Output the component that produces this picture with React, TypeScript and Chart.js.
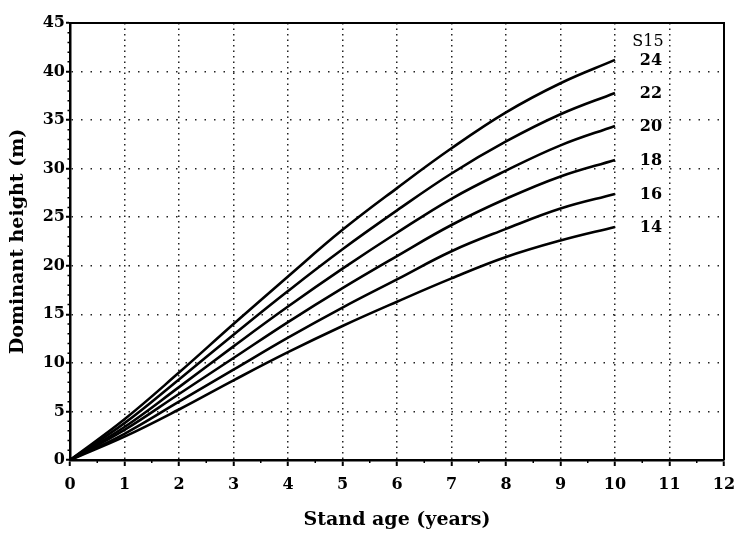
import React, { useEffect, useRef } from "react";
import { Chart, registerables } from "chart.js";

Chart.register(...registerables);

const ages = [0, 1, 2, 3, 4, 5, 6, 7, 8, 9, 10];
const siteLabels = ["24", "22", "20", "18", "16", "14"];
const s24 = [0, 4.2, 9.0, 14.0, 18.9, 23.7, 28.0, 32.1, 35.8, 38.8, 41.2];
const s22 = [0, 3.8, 8.3, 12.9, 17.4, 21.7, 25.7, 29.5, 32.8, 35.6, 37.8];
const s20 = [0, 3.4, 7.5, 11.7, 15.8, 19.7, 23.4, 26.9, 29.8, 32.4, 34.4];
const s18 = [0, 3.1, 6.8, 10.5, 14.2, 17.7, 21.0, 24.2, 26.9, 29.2, 30.9];
const s16 = [0, 2.7, 6.0, 9.3, 12.6, 15.7, 18.6, 21.5, 23.8, 25.9, 27.4];
const s14 = [0, 2.4, 5.2, 8.2, 11.1, 13.8, 16.3, 18.7, 20.9, 22.6, 24.0];
const seriesList = [s24, s22, s20, s18, s16, s14];
const headerLabel = "S15";

const serif = "'DejaVu Serif', 'Liberation Serif', serif";

const framePlugin = {
  id: "frameAndLabels",
  afterDraw(chart: any) {
    const ctx = chart.ctx;
    const xs = chart.scales.x;
    const ys = chart.scales.y;
    const { left, right, top, bottom } = chart.chartArea;
    ctx.save();
    ctx.strokeStyle = "#000";
    ctx.lineWidth = 2;
    ctx.setLineDash([]);
    ctx.beginPath();
    ctx.moveTo(left, top);
    ctx.lineTo(right, top);
    ctx.lineTo(right, bottom);
    ctx.stroke();
    ctx.lineWidth = 1.5;
    ctx.beginPath();
    for (let v = 0.5; v < 12; v += 1) {
      const px = xs.getPixelForValue(v);
      ctx.moveTo(px, bottom);
      ctx.lineTo(px, bottom + 3);
    }
    for (let v = 1; v < 45; v += 1) {
      if (v % 5 === 0) continue;
      const py = ys.getPixelForValue(v);
      ctx.moveTo(left, py);
      ctx.lineTo(left - 2.5, py);
    }
    ctx.stroke();
    ctx.fillStyle = "#000";
    ctx.font = "bold 16px " + serif;
    ctx.textAlign = "center";
    ctx.textBaseline = "middle";
    const lx = xs.getPixelForValue(10.66);
    seriesList.forEach((s, i) => {
      const py = ys.getPixelForValue(s[s.length - 1]);
      ctx.fillText(siteLabels[i], lx, py + 1);
    });
    const topY = ys.getPixelForValue(s24[s24.length - 1]);
    ctx.font = "16px " + serif;
    ctx.fillText(headerLabel, lx - 3, topY - 18);
    ctx.restore();
  },
};

export default function App() {
  const ref = useRef<HTMLCanvasElement | null>(null);
  useEffect(() => {
    if (!ref.current) return;
    const chart = new Chart(ref.current, {
      type: "line",
      data: {
        datasets: seriesList.map((s, i) => ({
          label: siteLabels[i],
          data: ages.map((a, j) => ({ x: a, y: s[j] })),
          borderColor: "#000",
          borderWidth: 2.6,
          pointRadius: 0,
          fill: false,
          tension: 0.4,
        })),
      },
      options: {
        animation: false,
        responsive: false,
        devicePixelRatio: 1,
        layout: { padding: { left: 0, top: 23, right: 13, bottom: 0 } },
        plugins: { legend: { display: false }, tooltip: { enabled: false } },
        scales: {
          x: {
            type: "linear",
            min: 0,
            max: 12,
            afterFit: (s: any) => {
              s.height = 79;
              s.paddingLeft = 0;
              s.paddingRight = 0;
            },
            border: { display: true, color: "#000", width: 2.5, dash: [1.5, 4] },
            grid: {
              color: "#222",
              lineWidth: 1.5,
              tickLength: 6,
              tickBorderDash: [],
              tickColor: "#000",
              tickWidth: 2,
            },
            ticks: {
              stepSize: 1,
              color: "#000",
              padding: 9,
              maxRotation: 0,
              font: { family: serif, size: 16, weight: "bold" },
            },
            title: {
              display: true,
              text: "Stand age (years)",
              color: "#000",
              font: { family: serif, size: 19, weight: "bold" },
              padding: { top: 0, bottom: 8 },
            },
          },
          y: {
            type: "linear",
            min: 0,
            max: 45,
            afterFit: (s: any) => {
              s.width = 70;
              s.paddingTop = 0;
              s.paddingBottom = 0;
            },
            border: { display: true, color: "#000", width: 2.5, dash: [1.5, 8] },
            grid: {
              color: "#222",
              lineWidth: 1.5,
              tickLength: 4,
              tickBorderDash: [],
              tickColor: "#000",
              tickWidth: 2,
            },
            ticks: {
              stepSize: 5,
              color: "#000",
              padding: 1,
              font: { family: serif, size: 16, weight: "bold" },
            },
            title: {
              display: true,
              text: "Dominant height (m)",
              color: "#000",
              font: { family: serif, size: 19, weight: "bold" },
              padding: { top: 7, bottom: 0 },
            },
          },
        },
      },
      plugins: [framePlugin],
    });
    return () => chart.destroy();
  }, []);
  return (
    <div style={{ position: "fixed", left: 0, top: 0, width: 737, height: 539, background: "#fff" }}>
      <canvas ref={ref} width={737} height={539} style={{ display: "block" }} />
    </div>
  );
}
